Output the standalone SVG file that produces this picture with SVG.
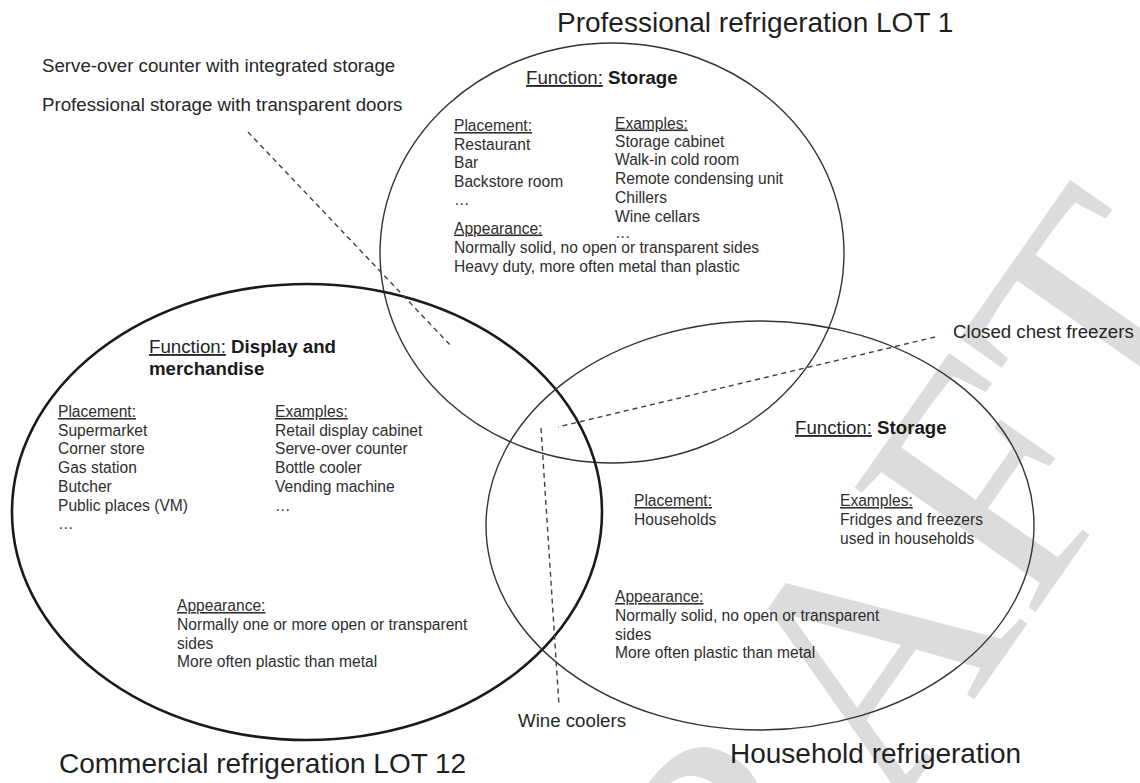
<svg xmlns="http://www.w3.org/2000/svg" width="1140" height="783" viewBox="0 0 1140 783">
  <style>
    text { font-family: "Liberation Sans", Arial, sans-serif; fill: #262626; }
    .title { font-size: 28px; fill: #1f1f1f; }
    .label { font-size: 18.7px; }
    .head { font-size: 18.7px; }
    .body { font-size: 15.6px; fill: #2e2e2e; }
    .u { text-decoration: underline; }
    .b { font-weight: bold; fill: #1a1a1a; }
    .thin { fill: none; stroke: #333; stroke-width: 1.4; }
    .thick { fill: none; stroke: #1a1a1a; stroke-width: 2.6; }
    .dash { fill: none; stroke: #404040; stroke-width: 1.4; stroke-dasharray: 5 4; }
    .wm { font-family: "Liberation Serif", "Times New Roman", serif; font-size: 335px; fill: #dcdcdc; }
  </style>

  <!-- watermark -->
  <g id="watermark">
    <text class="wm" text-anchor="middle" transform="translate(848,688) rotate(-55)" y="110">DRAFT</text>
  </g>

  <!-- professional refrigeration -->
  <g id="lot1">
    <ellipse class="thin" cx="612" cy="253" rx="232" ry="210"/>
    <text class="title" x="557" y="32">Professional refrigeration LOT 1</text>
    <text class="head" x="526" y="84"><tspan class="u">Function:</tspan> <tspan class="b">Storage</tspan></text>
    <text class="body" x="454">
      <tspan x="454" y="131" class="u">Placement:</tspan>
      <tspan x="454" y="149.5">Restaurant</tspan>
      <tspan x="454" y="168">Bar</tspan>
      <tspan x="454" y="186.5">Backstore room</tspan>
      <tspan x="454" y="205">…</tspan>
    </text>
    <text class="body" x="615">
      <tspan x="615" y="128.5" class="u">Examples:</tspan>
      <tspan x="615" y="146.5">Storage cabinet</tspan>
      <tspan x="615" y="165">Walk-in cold room</tspan>
      <tspan x="615" y="183.5">Remote condensing unit</tspan>
      <tspan x="615" y="202.5">Chillers</tspan>
      <tspan x="615" y="221.5">Wine cellars</tspan>
      <tspan x="615" y="238">…</tspan>
    </text>
    <text class="body" x="454">
      <tspan x="454" y="233.5" class="u">Appearance:</tspan>
      <tspan x="454" y="252.5">Normally solid, no open or transparent sides</tspan>
      <tspan x="454" y="271.5">Heavy duty, more often metal than plastic</tspan>
    </text>
  </g>

  <!-- commercial refrigeration -->
  <g id="lot12">
    <ellipse class="thick" cx="307" cy="512" rx="295" ry="228"/>
    <text class="title" x="59" y="773">Commercial refrigeration LOT 12</text>
    <text class="head" x="149">
      <tspan x="149" y="353"><tspan class="u">Function:</tspan> <tspan class="b">Display and</tspan></tspan>
      <tspan x="149" y="375" class="b">merchandise</tspan>
    </text>
    <text class="body" x="58">
      <tspan x="58" y="417" class="u">Placement:</tspan>
      <tspan x="58" y="435.7">Supermarket</tspan>
      <tspan x="58" y="454.4">Corner store</tspan>
      <tspan x="58" y="473.1">Gas station</tspan>
      <tspan x="58" y="491.8">Butcher</tspan>
      <tspan x="58" y="510.5">Public places (VM)</tspan>
      <tspan x="58" y="529">…</tspan>
    </text>
    <text class="body" x="275">
      <tspan x="275" y="417" class="u">Examples:</tspan>
      <tspan x="275" y="435.7">Retail display cabinet</tspan>
      <tspan x="275" y="454.4">Serve-over counter</tspan>
      <tspan x="275" y="473.1">Bottle cooler</tspan>
      <tspan x="275" y="491.8">Vending machine</tspan>
      <tspan x="275" y="510.5">…</tspan>
    </text>
    <text class="body" x="177">
      <tspan x="177" y="611" class="u">Appearance:</tspan>
      <tspan x="177" y="630">Normally one or more open or transparent</tspan>
      <tspan x="177" y="648.5">sides</tspan>
      <tspan x="177" y="667">More often plastic than metal</tspan>
    </text>
  </g>

  <!-- household refrigeration -->
  <g id="household">
    <ellipse class="thin" cx="760" cy="525.5" rx="274" ry="204.5"/>
    <text class="title" x="730" y="763">Household refrigeration</text>
    <text class="head" x="795" y="434"><tspan class="u">Function:</tspan> <tspan class="b">Storage</tspan></text>
    <text class="body" x="634">
      <tspan x="634" y="506" class="u">Placement:</tspan>
      <tspan x="634" y="525">Households</tspan>
    </text>
    <text class="body" x="840">
      <tspan x="840" y="506" class="u">Examples:</tspan>
      <tspan x="840" y="525">Fridges and freezers</tspan>
      <tspan x="840" y="543.5">used in households</tspan>
    </text>
    <text class="body" x="615">
      <tspan x="615" y="602" class="u">Appearance:</tspan>
      <tspan x="615" y="621">Normally solid, no open or transparent</tspan>
      <tspan x="615" y="639.5">sides</tspan>
      <tspan x="615" y="658">More often plastic than metal</tspan>
    </text>
  </g>

  <!-- product labels -->
  <g id="label-serve-over">
    <text class="label" x="42" y="72">Serve-over counter with integrated storage</text>
  </g>
  <g id="label-transparent-doors">
    <text class="label" x="42" y="111">Professional storage with transparent doors</text>
  </g>
  <g id="label-chest-freezers">
    <text class="label" x="953" y="338">Closed chest freezers</text>
  </g>
  <g id="label-wine-coolers">
    <text class="label" x="518" y="727">Wine coolers</text>
  </g>

  <!-- leader lines -->
  <g id="connectors">
    <line class="dash" x1="248" y1="132" x2="452" y2="347"/>
    <line class="dash" x1="935" y1="337" x2="558" y2="427"/>
    <line class="dash" x1="541" y1="428" x2="559" y2="705"/>
  </g>
</svg>
